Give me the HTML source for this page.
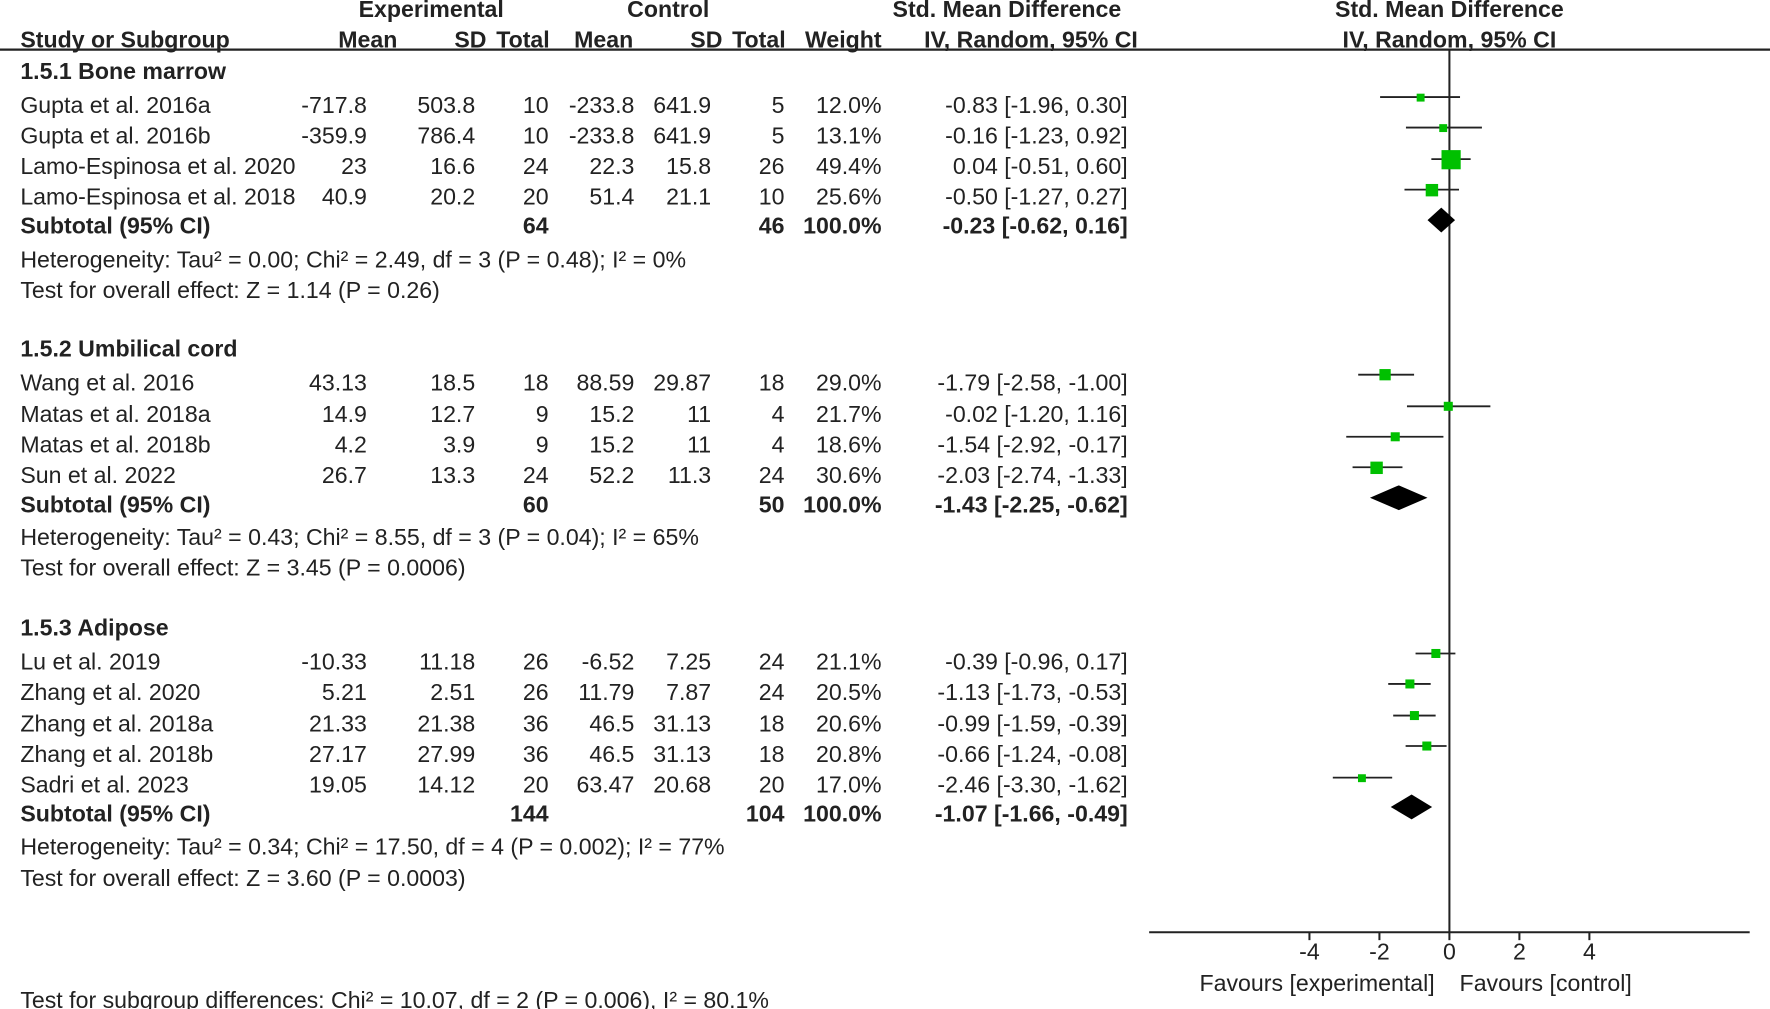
<!DOCTYPE html>
<html><head><meta charset="utf-8"><style>
html,body{margin:0;padding:0;background:#fff;}
svg{display:block}
text{font-family:"Liberation Sans",Arial,sans-serif;font-size:20.5px;fill:#222}
.b{font-weight:bold}
.r{text-anchor:end}
.c{text-anchor:middle}
</style></head><body>
<svg width="1770" height="1009" viewBox="0 0 1568 894" preserveAspectRatio="none" xmlns="http://www.w3.org/2000/svg">
<g class="b">
<text x="382" y="15" class="c b">Experimental</text>
<text x="592" y="15" class="c b">Control</text>
<text x="892" y="15" class="c b">Std. Mean Difference</text>
<text x="1284" y="15" class="c b">Std. Mean Difference</text>
<text x="18" y="42" class="b">Study or Subgroup</text>
<text x="352" y="42" class="r b">Mean</text>
<text x="431" y="42" class="r b">SD</text>
<text x="487" y="42" class="r b">Total</text>
<text x="561" y="42" class="r b">Mean</text>
<text x="640" y="42" class="r b">SD</text>
<text x="696" y="42" class="r b">Total</text>
<text x="781" y="42" class="r b">Weight</text>
<text x="1008" y="42" class="r b">IV, Random, 95% CI</text>
<text x="1284" y="42" class="c b">IV, Random, 95% CI</text>
</g>
<line x1="0" y1="44" x2="1568" y2="44" stroke="#222" stroke-width="2"/>
<line x1="1284" y1="44" x2="1284" y2="826" stroke="#222" stroke-width="1.8"/>
<line x1="1018" y1="826" x2="1550" y2="826" stroke="#222" stroke-width="1.8"/>
<g stroke="#222" stroke-width="1.8">
<line x1="1160" y1="826" x2="1160" y2="833"/><line x1="1222" y1="826" x2="1222" y2="833"/><line x1="1284" y1="826" x2="1284" y2="833"/><line x1="1346" y1="826" x2="1346" y2="833"/><line x1="1408" y1="826" x2="1408" y2="833"/>
</g>
<text x="1160" y="850" class="c">-4</text><text x="1222" y="850" class="c">-2</text><text x="1284" y="850" class="c">0</text><text x="1346" y="850" class="c">2</text><text x="1408" y="850" class="c">4</text>
<text x="1271" y="878" class="r">Favours [experimental]</text>
<text x="1293" y="878">Favours [control]</text>

<text x="18" y="70" class="b">1.5.1 Bone marrow</text>
<text x="18" y="316" class="b">1.5.2 Umbilical cord</text>
<text x="18" y="563" class="b">1.5.3 Adipose</text>

<text x="18" y="237">Heterogeneity: Tau² = 0.00; Chi² = 2.49, df = 3 (P = 0.48); I² = 0%</text>
<text x="18" y="264">Test for overall effect: Z = 1.14 (P = 0.26)</text>
<text x="18" y="483">Heterogeneity: Tau² = 0.43; Chi² = 8.55, df = 3 (P = 0.04); I² = 65%</text>
<text x="18" y="510">Test for overall effect: Z = 3.45 (P = 0.0006)</text>
<text x="18" y="757">Heterogeneity: Tau² = 0.34; Chi² = 17.50, df = 4 (P = 0.002); I² = 77%</text>
<text x="18" y="785">Test for overall effect: Z = 3.60 (P = 0.0003)</text>
<text x="18" y="893">Test for subgroup differences: Chi² = 10.07, df = 2 (P = 0.006), I² = 80.1%</text>

<g>
<text x="18" y="100">Gupta et al. 2016a</text><text x="325" y="100" class="r">-717.8</text><text x="421" y="100" class="r">503.8</text><text x="486" y="100" class="r">10</text><text x="562" y="100" class="r">-233.8</text><text x="630" y="100" class="r">641.9</text><text x="695" y="100" class="r">5</text><text x="781" y="100" class="r">12.0%</text><text x="999" y="100" class="r">-0.83 [-1.96, 0.30]</text>
<text x="18" y="127">Gupta et al. 2016b</text><text x="325" y="127" class="r">-359.9</text><text x="421" y="127" class="r">786.4</text><text x="486" y="127" class="r">10</text><text x="562" y="127" class="r">-233.8</text><text x="630" y="127" class="r">641.9</text><text x="695" y="127" class="r">5</text><text x="781" y="127" class="r">13.1%</text><text x="999" y="127" class="r">-0.16 [-1.23, 0.92]</text>
<text x="18" y="154">Lamo-Espinosa et al. 2020</text><text x="325" y="154" class="r">23</text><text x="421" y="154" class="r">16.6</text><text x="486" y="154" class="r">24</text><text x="562" y="154" class="r">22.3</text><text x="630" y="154" class="r">15.8</text><text x="695" y="154" class="r">26</text><text x="781" y="154" class="r">49.4%</text><text x="999" y="154" class="r">0.04 [-0.51, 0.60]</text>
<text x="18" y="181">Lamo-Espinosa et al. 2018</text><text x="325" y="181" class="r">40.9</text><text x="421" y="181" class="r">20.2</text><text x="486" y="181" class="r">20</text><text x="562" y="181" class="r">51.4</text><text x="630" y="181" class="r">21.1</text><text x="695" y="181" class="r">10</text><text x="781" y="181" class="r">25.6%</text><text x="999" y="181" class="r">-0.50 [-1.27, 0.27]</text>
<text x="18" y="207" class="b">Subtotal (95% CI)</text><text x="486" y="207" class="r b">64</text><text x="695" y="207" class="r b">46</text><text x="781" y="207" class="r b">100.0%</text><text x="999" y="207" class="r b">-0.23 [-0.62, 0.16]</text>

<text x="18" y="346">Wang et al. 2016</text><text x="325" y="346" class="r">43.13</text><text x="421" y="346" class="r">18.5</text><text x="486" y="346" class="r">18</text><text x="562" y="346" class="r">88.59</text><text x="630" y="346" class="r">29.87</text><text x="695" y="346" class="r">18</text><text x="781" y="346" class="r">29.0%</text><text x="999" y="346" class="r">-1.79 [-2.58, -1.00]</text>
<text x="18" y="374">Matas et al. 2018a</text><text x="325" y="374" class="r">14.9</text><text x="421" y="374" class="r">12.7</text><text x="486" y="374" class="r">9</text><text x="562" y="374" class="r">15.2</text><text x="630" y="374" class="r">11</text><text x="695" y="374" class="r">4</text><text x="781" y="374" class="r">21.7%</text><text x="999" y="374" class="r">-0.02 [-1.20, 1.16]</text>
<text x="18" y="401">Matas et al. 2018b</text><text x="325" y="401" class="r">4.2</text><text x="421" y="401" class="r">3.9</text><text x="486" y="401" class="r">9</text><text x="562" y="401" class="r">15.2</text><text x="630" y="401" class="r">11</text><text x="695" y="401" class="r">4</text><text x="781" y="401" class="r">18.6%</text><text x="999" y="401" class="r">-1.54 [-2.92, -0.17]</text>
<text x="18" y="428">Sun et al. 2022</text><text x="325" y="428" class="r">26.7</text><text x="421" y="428" class="r">13.3</text><text x="486" y="428" class="r">24</text><text x="562" y="428" class="r">52.2</text><text x="630" y="428" class="r">11.3</text><text x="695" y="428" class="r">24</text><text x="781" y="428" class="r">30.6%</text><text x="999" y="428" class="r">-2.03 [-2.74, -1.33]</text>
<text x="18" y="454" class="b">Subtotal (95% CI)</text><text x="486" y="454" class="r b">60</text><text x="695" y="454" class="r b">50</text><text x="781" y="454" class="r b">100.0%</text><text x="999" y="454" class="r b">-1.43 [-2.25, -0.62]</text>

<text x="18" y="593">Lu et al. 2019</text><text x="325" y="593" class="r">-10.33</text><text x="421" y="593" class="r">11.18</text><text x="486" y="593" class="r">26</text><text x="562" y="593" class="r">-6.52</text><text x="630" y="593" class="r">7.25</text><text x="695" y="593" class="r">24</text><text x="781" y="593" class="r">21.1%</text><text x="999" y="593" class="r">-0.39 [-0.96, 0.17]</text>
<text x="18" y="620">Zhang et al. 2020</text><text x="325" y="620" class="r">5.21</text><text x="421" y="620" class="r">2.51</text><text x="486" y="620" class="r">26</text><text x="562" y="620" class="r">11.79</text><text x="630" y="620" class="r">7.87</text><text x="695" y="620" class="r">24</text><text x="781" y="620" class="r">20.5%</text><text x="999" y="620" class="r">-1.13 [-1.73, -0.53]</text>
<text x="18" y="648">Zhang et al. 2018a</text><text x="325" y="648" class="r">21.33</text><text x="421" y="648" class="r">21.38</text><text x="486" y="648" class="r">36</text><text x="562" y="648" class="r">46.5</text><text x="630" y="648" class="r">31.13</text><text x="695" y="648" class="r">18</text><text x="781" y="648" class="r">20.6%</text><text x="999" y="648" class="r">-0.99 [-1.59, -0.39]</text>
<text x="18" y="675">Zhang et al. 2018b</text><text x="325" y="675" class="r">27.17</text><text x="421" y="675" class="r">27.99</text><text x="486" y="675" class="r">36</text><text x="562" y="675" class="r">46.5</text><text x="630" y="675" class="r">31.13</text><text x="695" y="675" class="r">18</text><text x="781" y="675" class="r">20.8%</text><text x="999" y="675" class="r">-0.66 [-1.24, -0.08]</text>
<text x="18" y="702">Sadri et al. 2023</text><text x="325" y="702" class="r">19.05</text><text x="421" y="702" class="r">14.12</text><text x="486" y="702" class="r">20</text><text x="562" y="702" class="r">63.47</text><text x="630" y="702" class="r">20.68</text><text x="695" y="702" class="r">20</text><text x="781" y="702" class="r">17.0%</text><text x="999" y="702" class="r">-2.46 [-3.30, -1.62]</text>
<text x="18" y="728" class="b">Subtotal (95% CI)</text><text x="486" y="728" class="r b">144</text><text x="695" y="728" class="r b">104</text><text x="781" y="728" class="r b">100.0%</text><text x="999" y="728" class="r b">-1.07 [-1.66, -0.49]</text>
</g>

<g stroke="#222" stroke-width="1.6">
<line x1="1222.6" y1="86" x2="1293.4" y2="86"/>
<line x1="1245.5" y1="113" x2="1312.8" y2="113"/>
<line x1="1268.0" y1="141" x2="1302.8" y2="141"/>
<line x1="1244.2" y1="168" x2="1292.5" y2="168"/>
<line x1="1203.2" y1="332" x2="1252.7" y2="332"/>
<line x1="1246.4" y1="360" x2="1320.3" y2="360"/>
<line x1="1192.6" y1="387" x2="1278.7" y2="387"/>
<line x1="1198.2" y1="414" x2="1242.4" y2="414"/>
<line x1="1254.0" y1="579" x2="1289.3" y2="579"/>
<line x1="1229.8" y1="606" x2="1267.4" y2="606"/>
<line x1="1234.2" y1="634" x2="1271.8" y2="634"/>
<line x1="1245.2" y1="661" x2="1281.5" y2="661"/>
<line x1="1180.7" y1="689" x2="1233.3" y2="689"/>
</g>
<g fill="#00c000">
<rect x="1255" y="83" width="7" height="7"/>
<rect x="1275" y="110" width="7" height="7"/>
<rect x="1277" y="133" width="17" height="17"/>
<rect x="1263" y="163" width="11" height="11"/>
<rect x="1222" y="327" width="10" height="10"/>
<rect x="1279" y="356" width="8" height="8"/>
<rect x="1232" y="383" width="8" height="8"/>
<rect x="1214" y="409" width="11" height="11"/>
<rect x="1268" y="575" width="8" height="8"/>
<rect x="1245" y="602" width="8" height="8"/>
<rect x="1249" y="630" width="8" height="8"/>
<rect x="1260" y="657" width="8" height="8"/>
<rect x="1203" y="686" width="7" height="7"/>
</g>
<g fill="#000">
<polygon points="1264.6,195 1276.8,184 1289,195 1276.8,206"/>
<polygon points="1213.6,441 1239.2,430 1264.6,441 1239.2,452"/>
<polygon points="1232,715 1250.5,704 1268.7,715 1250.5,726"/>
</g>
</svg>
</body></html>
